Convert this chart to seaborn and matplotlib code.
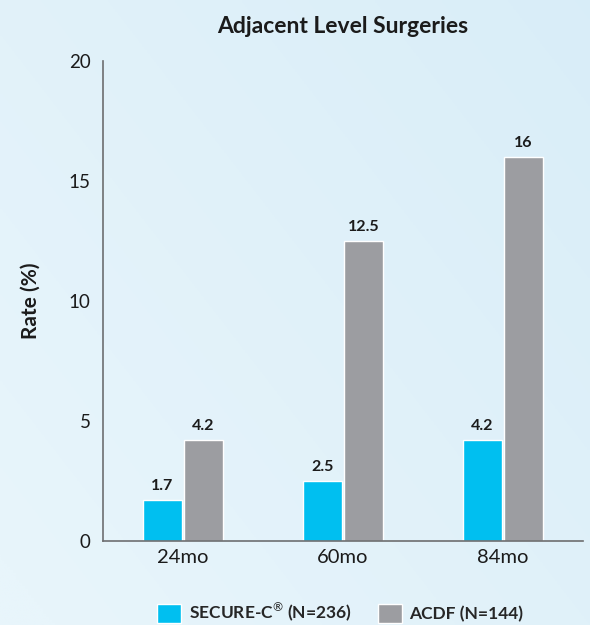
import numpy as np
import pandas as pd
import matplotlib
matplotlib.use("Agg")
import matplotlib.pyplot as plt
import seaborn as sns

# Data
periods = ["24mo", "60mo", "84mo"]
secure_c = [1.7, 2.5, 4.2]
acdf = [4.2, 12.5, 16]
series_names = [r"SECURE-C$^{®}$ (N=236)", "ACDF (N=144)"]
y_ticks = [0, 5, 10, 15, 20]

df = pd.DataFrame({
    "period": periods * 2,
    "rate": secure_c + acdf,
    "group": [series_names[0]] * len(periods) + [series_names[1]] * len(periods),
})

sns.set_style("white")
plt.rcParams["font.family"] = ["Lato", "DejaVu Sans"]
plt.rcParams["mathtext.fontset"] = "custom"
plt.rcParams["mathtext.rm"] = "Lato"
plt.rcParams["mathtext.bf"] = "Lato:bold"

text_color = "#1b1b1b"
axis_color = "#6d6e70"
palette = ["#00BFF0", "#9C9DA1"]

fig = plt.figure(figsize=(5.9, 6.25), dpi=100)

# Soft blue backdrop
bg = fig.add_axes([0, 0, 1, 1], zorder=-10)
h, w = 200, 200
yy, xx = np.mgrid[0:1:h * 1j, 0:1:w * 1j]
c_light = np.array([232, 245, 251]) / 255
c_dark = np.array([216, 237, 248]) / 255
t = np.clip(0.55 * xx + 0.45 * (1 - yy) - 0.05, 0, 1)[..., None]
img = c_light * (1 - t) + c_dark * t
bg.imshow(img, aspect="auto", extent=[0, 1, 0, 1], origin="upper")
bg.axis("off")

ax = fig.add_axes([0.1746, 0.1344, 0.8135, 0.768])
ax.patch.set_alpha(0)

sns.barplot(data=df, x="period", y="rate", hue="group", palette=palette,
            width=0.515, gap=0.06, saturation=1, ax=ax, legend=True,
            errorbar=None)

for container in ax.containers:
    ax.bar_label(container, labels=[f"{v:g}" for v in container.datavalues],
                 padding=5, fontsize=11.5, fontweight="bold", color=text_color)

ax.set_xlim(-0.5, 2.5)
ax.set_ylim(0, 20)
ax.set_yticks(y_ticks)
ax.set_yticklabels([str(v) for v in y_ticks], fontsize=13.5, color=text_color)
ax.tick_params(axis="y", direction="in", length=8.5, width=1, color=axis_color, pad=9)
ax.tick_params(axis="x", which="major", length=0, labelsize=14.5, labelcolor=text_color, pad=6)
ax.set_xticks([0.5, 1.5, 2.5], minor=True)
ax.tick_params(axis="x", which="minor", direction="in", length=4.5, width=1, color=axis_color)
ax.xaxis.get_minor_ticks()[2].tick1line.set_color("#111111")
ax.xaxis.get_minor_ticks()[2].tick1line.set_markeredgewidth(1.6)
ax.xaxis.get_minor_ticks()[2].tick1line.set_markersize(7)

for side in ["top", "right"]:
    ax.spines[side].set_visible(False)
for side in ["left", "bottom"]:
    ax.spines[side].set_color(axis_color)
    ax.spines[side].set_linewidth(1.2)

ax.set_xlabel("")
ax.set_ylabel("Rate (%)", fontsize=15, fontweight="bold", color=text_color, labelpad=20)
ax.set_title("Adjacent Level Surgeries", fontsize=16.5, fontweight="bold",
             color=text_color, pad=20)

handles, labels = ax.get_legend_handles_labels()
ax.get_legend().remove()
fig.legend(handles, labels, loc="center", bbox_to_anchor=(0.577, 0.02), ncol=2,
           frameon=False, handlelength=1.35, handleheight=1.35,
           handletextpad=0.45, columnspacing=1.55, prop={"weight": "bold", "size": 12.5})

fig.savefig("out.png", dpi=100)
